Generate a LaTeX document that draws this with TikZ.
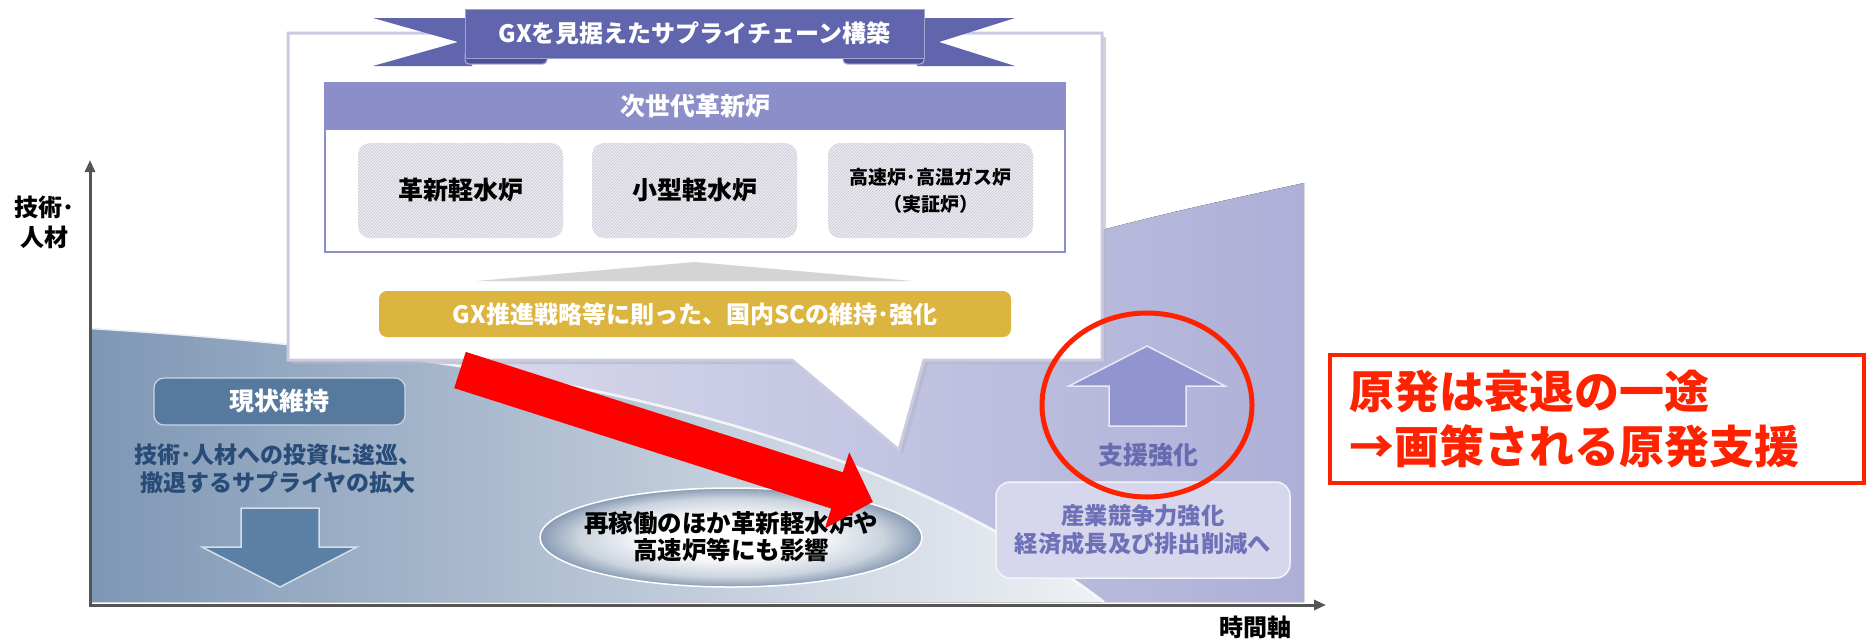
\documentclass[tikz,border=0pt]{standalone}
\usepackage{fontspec}
\setmainfont{Noto Sans CJK JP}
\usetikzlibrary{arrows.meta,patterns,shapes.geometric}
\definecolor{ribbonc}{HTML}{6165AE}
\definecolor{ribbondark}{HTML}{4E5199}
\definecolor{headerc}{HTML}{8B8EC8}
\definecolor{subfill}{HTML}{ECECF1}
\definecolor{hatchc}{HTML}{C6C6D3}
\definecolor{goldc}{HTML}{DCB440}
\definecolor{tric}{HTML}{D4D4D4}
\definecolor{calloutc}{HTML}{CACBE0}
\definecolor{shadowc}{HTML}{B5B6C8}
\definecolor{statusc}{HTML}{56799D}
\definecolor{lefttextc}{HTML}{294B78}
\definecolor{downc}{HTML}{5B7FA5}
\definecolor{ellmid}{HTML}{CAD3DE}
\definecolor{ellout}{HTML}{889BB4}
\definecolor{upc}{HTML}{9294CF}
\definecolor{supportc}{HTML}{676BB2}
\definecolor{rboxfill}{HTML}{D6D7EC}
\definecolor{rboxtext}{HTML}{6E71B8}
\definecolor{redc}{HTML}{FF2200}
\definecolor{axisc}{HTML}{555555}
\definecolor{blueL}{HTML}{7E97B5}
\definecolor{blueM}{HTML}{C3CDDA}
\definecolor{blueR}{HTML}{EFF1F5}
\definecolor{lavL}{HTML}{E0E1F0}
\definecolor{lavR}{HTML}{ADAFD7}
\pgfdeclareradialshading{ellshade}{\pgfpointorigin}{color(0bp)=(white); color(10bp)=(white); color(20bp)=(ellmid); color(25bp)=(ellout); color(50bp)=(ellout)}
\begin{document}
\begin{tikzpicture}[x=1pt,y=-1pt,
  every node/.style={inner sep=0pt,outer sep=0pt},
  axisline/.style={draw=axisc,line width=3pt,{Triangle[length=12pt,width=10pt]}-{Triangle[length=12pt,width=10pt]}},
  calloutbox/.style={draw=calloutc,line width=3pt,fill=white,line join=miter},
  ribbonmain/.style={fill=ribbonc,draw=ribbonc!60!white,line width=1pt,text=white,font=\bfseries\fontsize{24pt}{28pt}\selectfont},
  innerframe/.style={draw=headerc,line width=2pt,fill=white},
  headerbar/.style={fill=headerc,text=white,font=\bfseries\fontsize{25pt}{28pt}\selectfont},
  subbox/.style={rounded corners=12pt,fill=subfill,minimum width=205pt,minimum height=95pt,
     postaction={pattern=north east lines,pattern color=hatchc},
     font=\bfseries\fontsize{25pt}{28pt}\selectfont,align=center},
  goldbar/.style={fill=goldc,rounded corners=8pt,text=white,font=\bfseries\fontsize{24pt}{28pt}\selectfont},
  statusbox/.style={fill=statusc,draw=statusc!30!white,line width=1.2pt,rounded corners=10pt,text=white,font=\bfseries\fontsize{25pt}{28pt}\selectfont},
  lefttext/.style={text=lefttextc,align=center,font=\bfseries\fontsize{23pt}{28pt}\selectfont},
  downarrow/.style={fill=downc,draw=white!75!downc,line width=1.5pt,line join=miter},
  elltext/.style={align=center,font=\bfseries\fontsize{24.5pt}{27pt}\selectfont},
  uparrow/.style={fill=upc,draw=white!80!upc,line width=1.5pt,line join=miter},
  supporttext/.style={text=supportc,font=\bfseries\fontsize{25pt}{28pt}\selectfont},
  rbox/.style={fill=rboxfill,draw=white!70!rboxfill,line width=1.5pt,rounded corners=14pt,text=rboxtext,align=center,font=\bfseries\fontsize{23.3pt}{28pt}\selectfont},
  redbox/.style={draw=redc,line width=4pt,text=redc,font=\bfseries\fontsize{45pt}{55pt}\selectfont,text width=496pt,align=left,inner xsep=19pt,minimum height=128pt},
  axislabel/.style={align=center,font=\bfseries\fontsize{24pt}{30pt}\selectfont}
]
\useasboundingbox (0,0) rectangle (1867,641);

% background regions
\fill[left color=lavL,right color=lavR] (300,345) -- (300,300) -- (1102,230) .. controls (1170,212) and (1240,197) .. (1304,183) -- (1304,602) -- (300,602) -- cycle;
\fill[left color=blueL,middle color=blueM,right color=blueR] (90,328) .. controls (480,352) and (860,415) .. (1104,602) -- (90,602) -- cycle;
\draw[white,line width=2.5pt,opacity=.85] (90,328) .. controls (480,352) and (860,415) .. (1104,602);

% axes
\coordinate (ytip) at (90,160);
\coordinate (O) at (90,605);
\coordinate (xtip) at (1326,605);
\draw[axisline] (ytip) -- (O) -- (xtip);

% callout
\begin{scope}[shift={(4,4)}]
\fill[shadowc,opacity=.6] (288,33) -- (1102,33) -- (1102,360) -- (924,360) -- (899,450) -- (792,360) -- (288,360) -- cycle;
\end{scope}
\draw[calloutbox] (288,33) -- (1102,33) -- (1102,360) -- (924,360) -- (899,450) -- (792,360) -- (288,360) -- cycle;

% ribbon
\fill[ribbonc] (373,18) -- (472,18) -- (472,66) -- (373,66) -- (458,42) -- cycle;
\fill[ribbonc] (1015,18) -- (917,18) -- (917,66) -- (1015,66) -- (939,42) -- cycle;
\draw[fill=ribbondark,draw=ribbonc!50!white,line width=1pt,rounded corners=4pt] (465,50) rectangle (547,64);
\draw[fill=ribbondark,draw=ribbonc!50!white,line width=1pt,rounded corners=4pt] (843,50) rectangle (924,64);
\node[ribbonmain,minimum width=459pt,minimum height=49pt] (title) at (694.5,33.5) {GXを見据えたサプライチェーン構築};

% next generation reactors
\node[innerframe,minimum width=740pt,minimum height=169pt] (inner) at (695,167.5) {};
\node[headerbar,minimum width=740pt,minimum height=47pt] (hdr) at (695,106.5) {次世代革新炉};
\node[subbox] (r1) at (460.5,190.5) {革新軽水炉};
\node[subbox] (r2) at (694.5,190.5) {小型軽水炉};
\node[subbox,font=\bfseries\fontsize{19pt}{27pt}\selectfont] (r3) at (930.5,190.5) {高速炉･高温ガス炉\\（実証炉）};

\fill[tric] (477,281) -- (695,262) -- (913,281) -- cycle;
\node[goldbar,minimum width=632pt,minimum height=46pt] (gold) at (695,314) {GX推進戦略等に則った、国内SCの維持･強化};

% left side
\node[statusbox,minimum width=251pt,minimum height=47pt] (status) at (279.5,401.5) {現状維持};
\node[lefttext] (ltext) at (278,469) {技術･人材への投資に逡巡、\\撤退するサプライヤの拡大};
\draw[downarrow] (241,508) -- (319,508) -- (319,547) -- (357,547) -- (280,587) -- (202,547) -- (241,547) -- cycle;

% ellipse
\node[ellipse,shading=ellshade,draw=white,line width=1.5pt,minimum width=382pt,minimum height=99pt] (ell) at (731,537.5) {};
\node[elltext] (elltxt) at (731,537) {再稼働のほか革新軽水炉や\\高速炉等にも影響};

% red arrow
\fill[red] (465.8,351.9) -- (842.8,472.3) -- (849.2,452.3) -- (872.8,501.8) -- (824.8,528.5) -- (831.2,508.5) -- (454.2,388.1) -- cycle;

% right side
\draw[uparrow] (1147,346) -- (1225,386) -- (1186,386) -- (1186,426) -- (1109,426) -- (1109,386) -- (1069,386) -- cycle;
\node[supporttext] (support) at (1148,455) {支援強化};
\node[rbox,minimum width=294pt,minimum height=96pt] (rb) at (1143,530) {産業競争力強化\\経済成長及び排出削減へ};
\draw[redc,line width=5pt] (1147,405) ellipse [x radius=105pt,y radius=92pt];

% note
\node[redbox] (note) at (1597,419) {原発は衰退の一途\\→画策される原発支援};

% axis labels
\node[axislabel] (ylab) at (44,222) {技術･\\人材};
\node[axislabel] (xlab) at (1255,627) {時間軸};
\end{tikzpicture}
\end{document}
